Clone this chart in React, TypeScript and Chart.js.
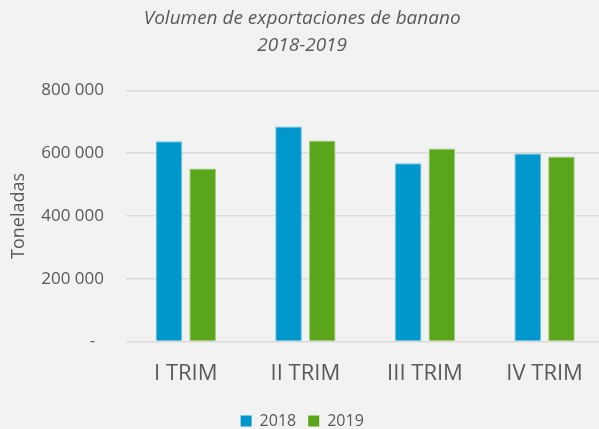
import React, { useEffect, useRef } from "react";
import { Chart, registerables } from "chart.js";

Chart.register(...registerables);

const categories = ["I TRIM", "II TRIM", "III TRIM", "IV TRIM"];
const series2018 = [638000, 685000, 568000, 599000];
const series2019 = [551000, 641000, 615000, 590000];
const seriesLabels = ["2018", "2019"];
const titleLines = ["Volumen de exportaciones de banano", "2018-2019"];
const yTitle = "Toneladas";
const yMin = 0;
const yMax = 800000;
const yStep = 200000;

const TEXT = "#595959";
const FONT = "'Open Sans', 'DejaVu Sans', sans-serif";

function fmt(v: number): string {
  if (v === 0) return "-  ";
  return String(v).replace(/\B(?=(\d{3})+(?!\d))/g, " ");
}

export default function App() {
  const ref = useRef<HTMLCanvasElement | null>(null);
  useEffect(() => {
    if (!ref.current) return;
    const chart = new Chart(ref.current, {
      type: "bar",
      data: {
        labels: categories,
        datasets: [
          {
            label: seriesLabels[0],
            data: series2018,
            backgroundColor: "#0097CD",
            borderColor: "#6CC3E4",
            borderWidth: 1,
            categoryPercentage: 0.5635,
            barPercentage: 0.792,
          },
          {
            label: seriesLabels[1],
            data: series2019,
            backgroundColor: "#5BA51A",
            borderColor: "#A6D18A",
            borderWidth: 1,
            categoryPercentage: 0.5635,
            barPercentage: 0.792,
          },
        ],
      },
      options: {
        responsive: false,
        animation: false,
        devicePixelRatio: 1,
        layout: { padding: { left: 0, right: 5.6, top: 0, bottom: -10 } },
        plugins: {
          title: {
            display: true,
            text: titleLines,
            color: TEXT,
            font: { family: FONT, size: 19, style: "italic", weight: "normal", lineHeight: 1.405 },
            padding: { top: 5.15, bottom: 31.95 },
          },
          legend: {
            display: true,
            position: "bottom",
            labels: {
              boxWidth: 11,
              boxHeight: 11,
              padding: 12,
              color: TEXT,
              font: { family: FONT, size: 16 },
              generateLabels: (c: any) =>
                c.data.datasets.map((d: any, i: number) => ({
                  text: d.label,
                  fillStyle: d.backgroundColor,
                  strokeStyle: d.backgroundColor,
                  lineWidth: 0,
                  hidden: false,
                  datasetIndex: i,
                  fontColor: TEXT,
                })),
            },
          },
          tooltip: { enabled: false },
        },
        scales: {
          x: {
            grid: { display: false },
            border: { display: false },
            afterFit: (s: any) => {
              s.height = 59.5;
            },
            ticks: {
              color: TEXT,
              padding: 11,
              font: { family: FONT, size: 22, lineHeight: 1.2 },
            },
          },
          y: {
            min: yMin,
            max: yMax,
            afterFit: (s: any) => {
              s.width = 126;
            },
            grid: { color: "#D9D9D9", lineWidth: 1.5, drawTicks: false },
            border: { display: false },
            ticks: {
              stepSize: yStep,
              padding: 22,
              color: TEXT,
              font: { family: FONT, size: 17 },
              callback: (v: any) => fmt(Number(v)),
            },
            title: {
              display: true,
              text: yTitle,
              color: TEXT,
              font: { family: FONT, size: 18, lineHeight: 1.2 },
              padding: { top: 8.5, bottom: 0 },
            },
          },
        },
      },
    });
    return () => chart.destroy();
  }, []);
  return (
    <div
      style={{
        position: "fixed",
        left: 0,
        top: 0,
        width: 599,
        height: 429,
        overflow: "hidden",
        background: "#F2F2F2",
      }}
    >
      <canvas ref={ref} width={610} height={429} style={{ display: "block" }} />
    </div>
  );
}
